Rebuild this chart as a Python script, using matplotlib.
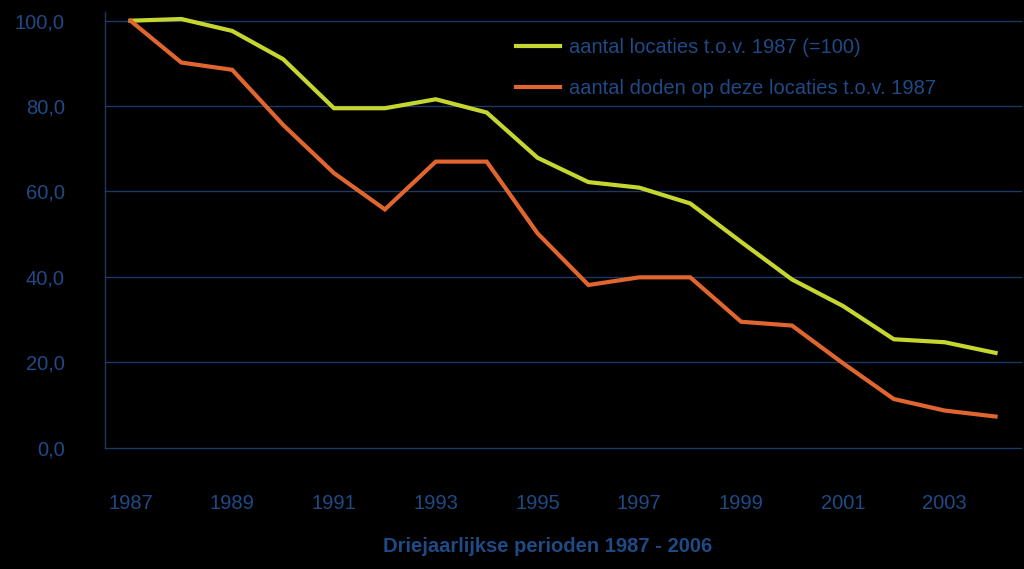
import matplotlib
matplotlib.use("Agg")
import matplotlib.pyplot as plt

years = [str(y) for y in range(1987, 2005)]
tick_labels = ["1987", "1989", "1991", "1993", "1995", "1997", "1999", "2001", "2003"]
locaties = [100.0, 100.4, 97.6, 91.0, 79.5, 79.5, 81.6, 78.5, 67.9, 62.2,
            60.9, 57.2, 48.2, 39.4, 33.2, 25.4, 24.7, 22.2]
doden = [100.0, 90.2, 88.5, 75.6, 64.3, 55.8, 67.0, 67.0, 50.2, 38.1,
         39.9, 39.9, 29.5, 28.6, 19.8, 11.4, 8.7, 7.3]
yticks = [0, 20, 40, 60, 80, 100]
label_locaties = "aantal locaties t.o.v. 1987 (=100)"
label_doden = "aantal doden op deze locaties t.o.v. 1987"
xlabel = "Driejaarlijkse perioden 1987 - 2006"

plt.rcParams['font.family'] = ['Liberation Sans', 'DejaVu Sans']
txt = '#1F4A86'
grid = '#1C3864'

fig = plt.figure(figsize=(10.24, 5.69), dpi=100, facecolor='black')
ax = fig.add_axes([105/1024, 121.3/569, 916/1024, 427/569], facecolor='black')

x = list(range(len(years)))
l1, = ax.plot(x, locaties, color='#C5D72E', lw=3.0, solid_joinstyle='miter',
              label=label_locaties, clip_on=False, zorder=3)
l2, = ax.plot(x, doden, color='#E0652F', lw=3.0, solid_joinstyle='miter',
              label=label_doden, clip_on=False, zorder=3)

ax.set_xlim(-0.5, len(years) - 0.5)
ax.set_ylim(0, 100)
ax.set_yticks(yticks)
ax.set_yticklabels([f"{v:.1f}".replace('.', ',') for v in yticks])
ax.set_xticks([years.index(t) for t in tick_labels])
ax.set_xticklabels(tick_labels)
ax.tick_params(axis='y', length=0, pad=29, labelsize=14.5, labelcolor=txt)
ax.tick_params(axis='x', length=0, pad=33, labelsize=14.5, labelcolor=txt)

for yv in yticks:
    ax.axhline(yv, color=grid, lw=1.0, zorder=0, clip_on=False)
for s in ['top', 'right', 'bottom']:
    ax.spines[s].set_visible(False)
ax.spines['left'].set_color(grid)
ax.spines['left'].set_linewidth(1.0)
ax.spines['left'].set_bounds(0, 102)

fig.text(548/1024, 1 - 546/569, xlabel, color=txt, fontsize=14.5, fontweight='bold',
         ha='center', va='center')

leg = fig.legend(handles=[l1, l2], loc='upper left', bbox_to_anchor=(516/1024, 1 - 38/569),
                 frameon=False, fontsize=14.5, handlelength=2.2, handletextpad=0.45,
                 labelspacing=1.08, borderpad=0, borderaxespad=0)
for t in leg.get_texts():
    t.set_color(txt)

fig.savefig('out.png', dpi=100, facecolor='black')
